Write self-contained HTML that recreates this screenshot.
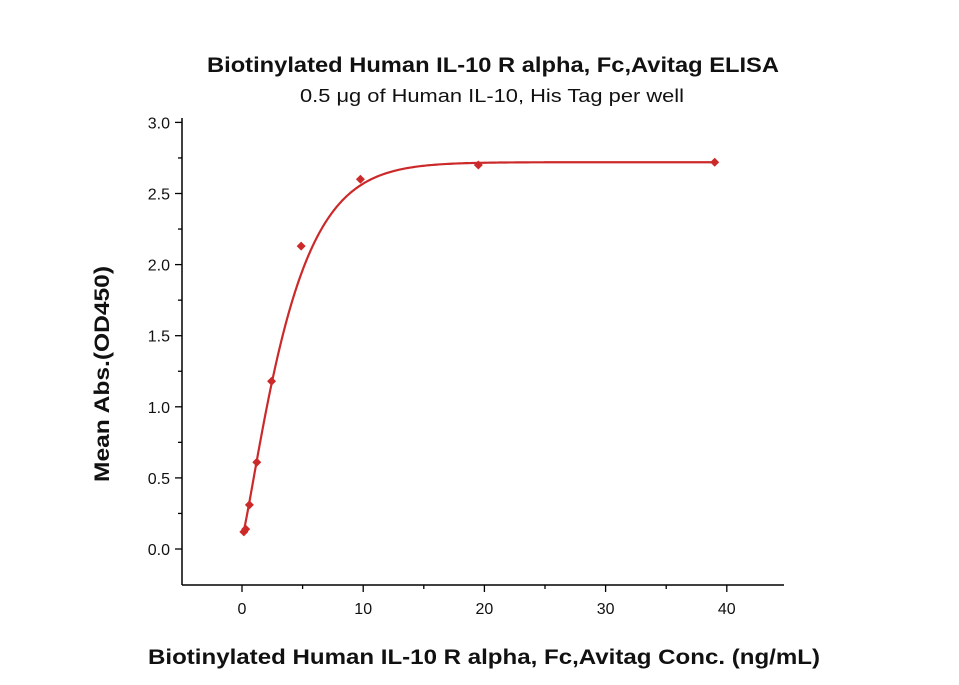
<!DOCTYPE html>
<html><head><meta charset="utf-8"><style>
body{margin:0;background:#fff;}
svg{display:block;font-family:"Liberation Sans",Arial,sans-serif;}
</style></head><body>
<svg id="chart" width="959" height="685">
<text x="493" y="72" text-anchor="middle" font-size="21" font-weight="bold" fill="#111" textLength="572" lengthAdjust="spacingAndGlyphs">Biotinylated Human IL-10 R alpha, Fc,Avitag ELISA</text>
<text x="492" y="102" text-anchor="middle" font-size="18" fill="#111" textLength="384" lengthAdjust="spacingAndGlyphs">0.5 μg of Human IL-10, His Tag per well</text>
<text x="484" y="664" text-anchor="middle" font-size="21" font-weight="bold" fill="#111" textLength="672" lengthAdjust="spacingAndGlyphs">Biotinylated Human IL-10 R alpha, Fc,Avitag Conc. (ng/mL)</text>
<text transform="translate(109,374) rotate(-90)" text-anchor="middle" font-size="21" font-weight="bold" fill="#111" textLength="216" lengthAdjust="spacingAndGlyphs">Mean Abs.(OD450)</text>
<g id="axes"></g>
<g id="plot"></g>
</svg>
<script>
const xVals=[0.153,0.305,0.61,1.22,2.44,4.88,9.77,19.5,39];
const yVals=[0.12,0.14,0.31,0.61,1.18,2.13,2.60,2.70,2.72];
const xTicks=[0,10,20,30,40];
const yTicks=[0.0,0.5,1.0,1.5,2.0,2.5,3.0];
const fitParams=[0.08,2.72,4.16,1.2]; // bottom, top, scale, shape
const NS="http://www.w3.org/2000/svg";
const X0=182,X1=784,Y0=585;
function sx(v){return 242+v*12.12;}
function sy(v){return 549-v*142.2;}
function mk(t,a,p){const e=document.createElementNS(NS,t);for(const k in a)e.setAttribute(k,a[k]);p.appendChild(e);return e;}
const ax=document.getElementById('axes'),pl=document.getElementById('plot');
let l=mk('line',{x1:X0,y1:Y0,x2:X1,y2:Y0,stroke:'#000','stroke-width':1.5},ax);


l=mk('line',{x1:X0,y1:Y0,x2:X0,y2:118,stroke:'#000','stroke-width':1.5},ax);


for(let v=-5;v<=45;v+=5){const x=sx(v);if(x<X0||x>X1)continue;const maj=v%10===0;
 mk('line',{x1:x,y1:Y0,x2:x,y2:Y0+(maj?7:4),stroke:'#000','stroke-width':1.3},ax);}
xTicks.forEach(v=>{const t=mk('text',{x:sx(v),y:Y0+29,'text-anchor':'middle','font-size':16,fill:'#111'},ax);t.textContent=v;
 
 });
for(let v=0;v<=3.001;v+=0.25){const y=sy(v);const maj=Math.abs(v*2-Math.round(v*2))<1e-6;
 mk('line',{x1:X0,y1:y,x2:X0-(maj?7:4),y2:y,stroke:'#000','stroke-width':1.3},ax);}
yTicks.forEach(v=>{const t=mk('text',{x:X0-12,y:sy(v)+6,'text-anchor':'end','font-size':16,fill:'#111'},ax);t.textContent=v.toFixed(1);
 
 });
const [b,tp,lam,k]=fitParams;
let d='';for(let i=0;i<=300;i++){const x=0.15+(39-0.15)*Math.pow(i/300,2);const y=b+(tp-b)*(1-Math.exp(-Math.pow(x/lam,k)));d+=(i?'L':'M')+sx(x).toFixed(2)+','+sy(y).toFixed(2);}
const c=mk('path',{d:d,fill:'none',stroke:'#cc2a2a','stroke-width':2.2},pl);


xVals.forEach((xv,i)=>{const x=sx(xv),y=sy(yVals[i]);
 const p=mk('polygon',{points:`${x},${y-4.5} ${x+4.5},${y} ${x},${y+4.5} ${x-4.5},${y}`,fill:'#cc2a2a'},pl);
 
 });
</script>
</body></html>
